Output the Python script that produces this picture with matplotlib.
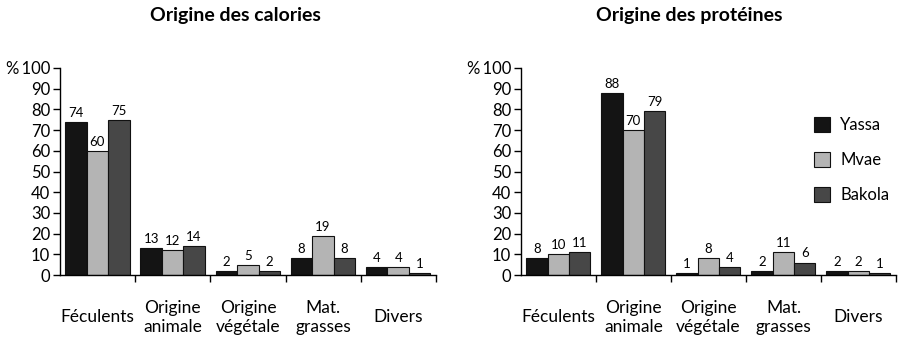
import numpy as np
import matplotlib.pyplot as plt
from matplotlib.patches import Patch

plt.rcParams['font.family'] = ['Lato', 'DejaVu Sans']

categories = ["Féculents", "Origine\nanimale", "Origine\nvégétale", "Mat.\ngrasses", "Divers"]
groups = ["Yassa", "Mvae", "Bakola"]

# pourcentages par groupe
calories = {
    "Yassa": [74, 13, 2, 8, 4],
    "Mvae": [60, 12, 5, 19, 4],
    "Bakola": [75, 14, 2, 8, 1],
}
proteines = {
    "Yassa": [8, 88, 1, 2, 2],
    "Mvae": [10, 70, 8, 11, 2],
    "Bakola": [11, 79, 4, 6, 1],
}

colors = {"Yassa": "#141414", "Mvae": "#b4b4b4", "Bakola": "#474747"}

fig = plt.figure(figsize=(9.01, 3.41), dpi=100)
ax1 = fig.add_axes([60/901, 1 - 275/341, 376/901, 207/341])
ax2 = fig.add_axes([521/901, 1 - 275/341, 375/901, 207/341])

w = 0.285
off = 0.07


def draw(ax, data):
    x = np.arange(len(categories))
    for j, g in enumerate(groups):
        pos = x + off + j * w
        ax.bar(pos, data[g], width=w, align="edge", color=colors[g],
               edgecolor="#111111", linewidth=0.8)
        for p, v in zip(pos, data[g]):
            ax.text(p + w / 2, v + 1.5, str(v), ha="center", va="bottom",
                    fontsize=9.5)
    ax.set_xlim(0, 5)
    ax.set_ylim(0, 100)
    ax.set_yticks(range(0, 101, 10))
    ax.set_yticklabels([str(t) for t in range(0, 100, 10)] + ["%\u2009100"], fontsize=12)
    ax.set_xticks(range(1, 6))
    ax.set_xticklabels([])
    ax.tick_params(axis="x", length=5, width=1, direction="out")
    ax.tick_params(axis="y", length=5, width=1, pad=2)
    for k, c in enumerate(categories):
        ax.text(k + 0.5, -20.5, c, ha="center", va="center", fontsize=12.5,
                linespacing=1.2)
    for s in ["top", "right"]:
        ax.spines[s].set_visible(False)
    ax.spines["left"].set_linewidth(1)
    ax.spines["bottom"].set_linewidth(1)


draw(ax1, calories)
draw(ax2, proteines)

fig.text(235/901, 1 - 16/341, "Origine des calories", ha="center", va="center",
         fontsize=14, fontweight="bold")
fig.text(689/901, 1 - 16/341, "Origine des protéines", ha="center", va="center",
         fontsize=14, fontweight="bold")

handles = [Patch(facecolor=colors[g], edgecolor="#111111", linewidth=0.8) for g in groups]
ax2.legend(handles, groups, loc="upper left", bbox_to_anchor=(0.78, 0.765),
           frameon=False, fontsize=12, handlelength=1.0, handleheight=1.0,
           labelspacing=1.15, handletextpad=0.6, borderpad=0, borderaxespad=0)

fig.savefig("out.png", dpi=100)
